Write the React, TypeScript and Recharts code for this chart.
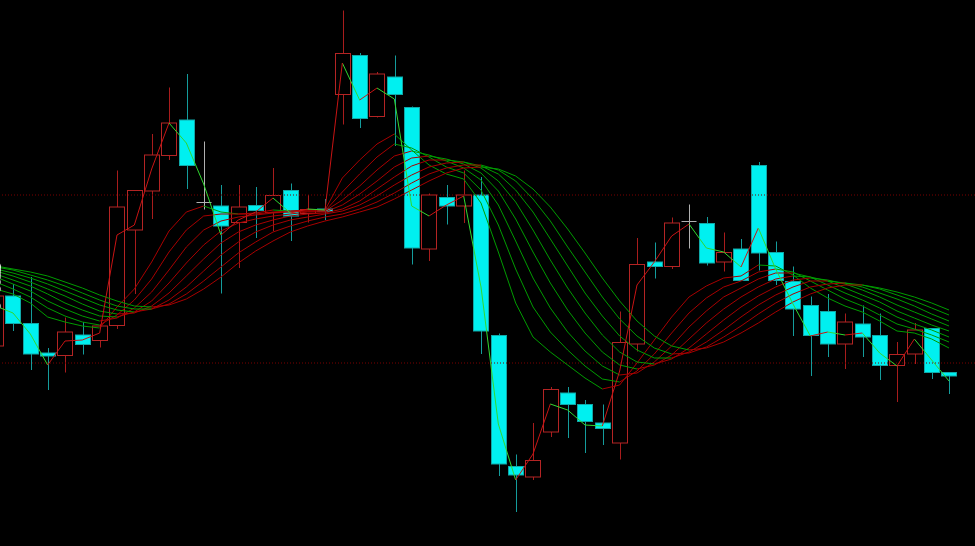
import React from 'react';
import { ComposedChart, Bar, Line, XAxis, YAxis, ReferenceLine } from 'recharts';

// candles, price in points
const opens = [200, 250, 222.5, 193, 190.5, 211, 205.5, 220.5, 316, 355, 390.5, 426, 344, 340, 323.5, 340.5, 333.5, 355.5, 332.5, 337, 451.5, 490.5, 429.5, 469, 438.5, 297, 348.5, 340, 351, 210.5, 79.5, 69, 114, 153, 141.5, 123, 103, 202, 284, 279.5, 325.5, 322.5, 284, 297, 380.5, 293.5, 264.5, 240.5, 234.5, 202, 222, 210.5, 180.5, 192, 217.5, 173.5];
const highs = [273, 262, 269, 198, 228.5, 224, 221, 375.5, 356, 412, 458.5, 472, 404.5, 361, 361, 359, 378, 362.5, 351, 347, 535.5, 493, 474, 490.5, 439.5, 352.5, 361, 375.5, 369, 212.5, 91.5, 123, 159, 159, 146, 141.5, 234.5, 308, 303.5, 328.5, 341.5, 329, 313.5, 307, 384, 304.5, 279.5, 249.5, 252, 232.5, 240.5, 232.5, 204, 223, 218, 174];
const lows = [198, 215, 176, 156, 173.5, 191.5, 198.5, 217, 252, 327, 386, 357, 336.5, 252.5, 278, 308, 315, 305, 323.5, 326, 421.5, 418, 428.5, 400, 281.5, 285, 321.5, 323, 192, 70, 34, 66, 109, 108, 93, 101, 86.5, 194.5, 267.5, 277, 297.5, 280.5, 274.5, 265, 275.5, 261, 210, 170, 189, 177, 189, 166, 144, 182, 167, 152];
const closes = [250, 222.5, 192, 190, 214, 201.5, 220, 339, 355.5, 391, 423, 380.5, 344, 320, 339, 335.5, 350.5, 330, 336.5, 334.5, 492.5, 427.5, 472, 451.5, 298, 351, 340, 351, 215, 82, 71, 85.5, 156.5, 141.5, 124.5, 117.5, 203.5, 281.5, 279.5, 323, 325.5, 283, 293.5, 265.5, 293, 265.5, 237, 210.5, 202, 224, 209, 180.5, 191.5, 216, 173.5, 170];

// fast line (typical price) and the 8 ribbon averages
const fast = [240, 233, 212, 181, 205, 206, 213, 311, 321, 377, 423, 403, 362, 311, 326, 334, 348, 333, 337, 336, 483, 446, 458, 447, 340, 330, 341, 350, 259, 122, 66, 92, 142, 136, 121, 120, 175, 261, 284, 310, 322, 298, 294, 279, 318, 277, 242, 210, 214, 211, 213, 193, 180, 207, 186, 165];
const ma1 = [257, 252, 243, 229, 224, 220, 218, 239, 257, 284, 315, 334, 340, 334, 332, 333, 336, 335, 336, 336, 368, 386, 402, 412, 396, 381, 372, 367, 343, 294, 243, 209, 194, 181, 168, 157, 161, 183, 206, 229, 249, 260, 268, 270, 281, 280, 271, 258, 248, 240, 234, 225, 215, 213, 207, 198];
const ma2 = [264, 257, 249, 238, 230, 224, 221, 231, 246, 267, 294, 316, 330, 332, 332, 332, 334, 335, 335, 335, 354, 372, 389, 402, 398, 389, 379, 373, 356, 321, 277, 239, 214, 196, 180, 167, 164, 175, 192, 213, 233, 248, 259, 265, 274, 277, 274, 265, 256, 247, 240, 231, 222, 217, 211, 204];
const ma3 = [269, 262, 255, 245, 237, 230, 225, 228, 238, 254, 276, 299, 316, 325, 329, 331, 333, 334, 335, 335, 346, 360, 376, 390, 395, 391, 385, 378, 366, 341, 305, 268, 238, 214, 195, 180, 171, 173, 184, 200, 219, 235, 249, 258, 267, 273, 273, 269, 261, 253, 246, 238, 229, 222, 216, 209];
const ma4 = [272, 266, 260, 252, 243, 236, 230, 229, 234, 245, 263, 283, 301, 315, 323, 327, 330, 332, 334, 334, 341, 352, 365, 379, 388, 390, 387, 382, 373, 355, 327, 294, 263, 236, 213, 194, 181, 177, 181, 191, 207, 223, 237, 249, 259, 267, 270, 269, 265, 258, 251, 244, 235, 228, 221, 215];
const ma5 = [275, 270, 264, 257, 250, 242, 235, 232, 233, 240, 253, 270, 287, 303, 314, 321, 326, 330, 332, 333, 337, 345, 357, 369, 380, 386, 386, 384, 378, 365, 344, 316, 286, 258, 233, 211, 194, 184, 182, 187, 198, 212, 226, 239, 250, 259, 266, 268, 266, 262, 256, 249, 241, 234, 227, 220];
const ma6 = [277, 273, 268, 262, 255, 248, 241, 236, 234, 237, 246, 259, 275, 291, 304, 314, 321, 326, 329, 332, 335, 341, 350, 361, 371, 379, 383, 384, 380, 372, 356, 334, 307, 280, 253, 230, 210, 196, 188, 188, 194, 204, 216, 229, 241, 251, 259, 265, 265, 263, 259, 253, 247, 240, 232, 225];
const ma7 = [279, 276, 271, 266, 260, 253, 246, 240, 237, 237, 242, 252, 265, 279, 293, 304, 314, 320, 325, 329, 332, 337, 344, 353, 363, 372, 378, 381, 381, 376, 365, 347, 325, 299, 274, 249, 227, 210, 198, 192, 193, 199, 209, 220, 232, 243, 252, 259, 262, 263, 261, 257, 251, 245, 238, 231];
const ma8 = [280, 277, 274, 270, 264, 258, 251, 245, 240, 239, 241, 247, 257, 269, 283, 295, 305, 314, 320, 325, 329, 334, 339, 347, 356, 365, 373, 378, 379, 377, 370, 357, 339, 317, 293, 268, 245, 225, 210, 200, 196, 198, 204, 213, 223, 234, 244, 252, 258, 261, 261, 258, 254, 249, 243, 236];

const levels = [351, 183];
const ribbon = [ma1, ma2, ma3, ma4, ma5, ma6, ma7, ma8];

// split a line into 4 alternating run groups so each segment keeps its slope colour
function splitRuns(vals: number[]) {
  const n = vals.length;
  const out = [0, 1, 2, 3].map(() => new Array(n + 1).fill(null));
  const ups = [true, false, true, false];
  let run = -1;
  let prevUp: boolean | null = null;
  for (let i = 1; i < n; i++) {
    const up = vals[i] > vals[i - 1] || (vals[i] === vals[i - 1] && prevUp === true);
    if (up !== prevUp) { run++; prevUp = up; }
    const s = run % 4;
    out[s][i - 1] = vals[i - 1];
    out[s][i] = vals[i];
    ups[s] = up;
  }
  return out.map((arr, s) => ({ arr, up: ups[s] }));
}

const lineSets = [
  ...ribbon.map((v, k) => ({ key: 'm' + k, parts: splitRuns(v), up: '#a80000', down: '#009c00' })),
  { key: 'f', parts: splitRuns(fast), up: '#c81414', down: '#30d830' },
];

const data = Array.from({ length: 57 }, (_, i) => {
  const row: any = { i };
  if (i < opens.length) {
    row.range = [lows[i], highs[i]];
    row.open = opens[i]; row.close = closes[i]; row.high = highs[i]; row.low = lows[i];
  }
  lineSets.forEach(ls => ls.parts.forEach((p, s) => { row[ls.key + '_' + s] = p.arr[i]; }));
  return row;
});

const Candle = (props: any) => {
  const { x, y, width, height, payload } = props;
  if (!payload || payload.open == null) return null;
  const { open, close, high, low } = payload;
  const k = height / (high - low);
  const yOf = (v: number) => y + (high - v) * k;
  const cx = Math.round(x + width / 2) + 0.5;
  const left = Math.round(x) + 0.5;
  const w = Math.round(width) - 1;
  const top = yOf(Math.max(open, close));
  const bot = yOf(Math.min(open, close));
  if (open === close) {
    return (
      <g>
        <line x1={cx} x2={cx} y1={y} y2={y + height} stroke="#b0b0b0" />
        <line x1={left} x2={left + w} y1={Math.round(top) + 0.5} y2={Math.round(top) + 0.5} stroke="#b0b0b0" />
      </g>
    );
  }
  if (close > open) {
    return (
      <g>
        <line x1={cx} x2={cx} y1={y} y2={top} stroke="#a81c1c" />
        <line x1={cx} x2={cx} y1={bot} y2={y + height} stroke="#a81c1c" />
        <rect x={left} y={top} width={w} height={bot - top} fill="none" stroke="#b42424" />
      </g>
    );
  }
  return (
    <g>
      <line x1={cx} x2={cx} y1={y} y2={y + height} stroke="#149c9c" />
      <rect x={left} y={top} width={w} height={Math.max(bot - top, 1)} fill="#00f0f0" stroke="#10a8a8" />
    </g>
  );
};

export default function App() {
  return (
    <div style={{ position: 'fixed', left: 0, top: 0, width: 975, height: 546, background: '#000', overflow: 'hidden' }}>
      <div style={{ position: 'absolute', left: -13, top: 0 }}>
        <ComposedChart width={988} height={546} data={data} margin={{ top: 0, right: 0, bottom: 0, left: 0 }}>
          <XAxis dataKey="i" type="category" hide />
          <YAxis type="number" domain={[0, 546]} hide allowDataOverflow />
          {levels.map(l => (
            <ReferenceLine key={l} y={l} stroke="#7a0000" strokeDasharray="1 2" />
          ))}
          <Bar dataKey="range" barSize={16} shape={<Candle />} isAnimationActive={false} />
          {lineSets.flatMap(ls => ls.parts.map((p, s) => (
            <Line key={ls.key + s} dataKey={ls.key + '_' + s} stroke={p.up ? ls.up : ls.down} strokeWidth={1} dot={false} connectNulls={false} isAnimationActive={false} />
          )))}
        </ComposedChart>
      </div>
    </div>
  );
}
